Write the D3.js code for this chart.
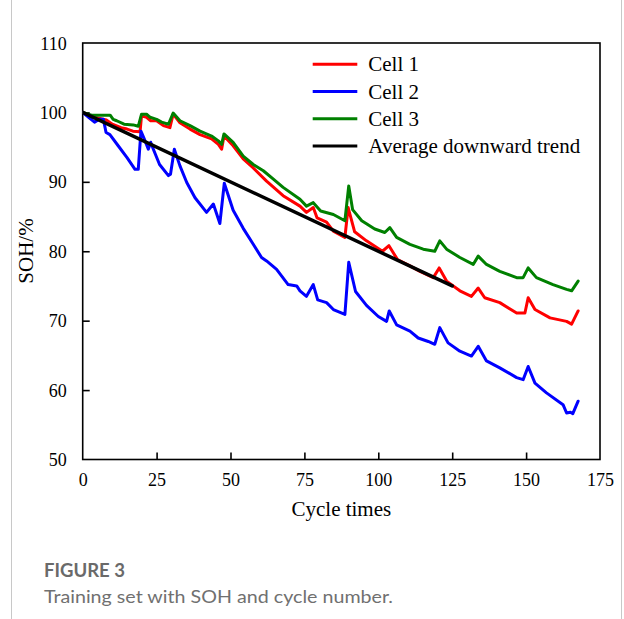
<!DOCTYPE html>
<html>
<head>
<meta charset="utf-8">
<script src="https://cdn.jsdelivr.net/npm/d3@7"></script>
<style>
html,body{margin:0;padding:0;background:#fff;}
svg{display:block;}
</style>
</head>
<body>
<svg id="chart" width="624" height="619"></svg>
<script>
// ---- data ----
const cell1X = [0,4,8,10,13,15,17,19.4,19.9,21.6,23,25,27.3,29.5,30.6,32.9,36.3,39.7,43.6,45.9,47,47.8,50.9,54.3,57.7,62.2,67.8,73.5,75.7,78,79.3,82.5,84.8,88.7,89.8,92,96,101.4,103.6,106.5,110.7,114.1,118.6,120.6,123.1,127.6,131.5,133.8,136,141.1,146.8,149.6,150.7,153,158.1,163.7,165.4,167.6];
const cell1Y = [100,99.3,98.9,98.3,97.8,97.6,97.3,97.2,99.5,99.3,98.8,98.8,98.1,97.8,99.75,98.5,97.6,96.8,96.2,95.4,94.7,96.6,95.2,93.3,92.0,90.1,88.0,86.5,85.6,86.3,84.8,84.2,82.9,82.0,86.3,82.8,81.5,80.0,80.8,78.8,77.9,77.1,76.2,77.6,75.7,74.3,73.5,74.7,73.3,72.6,71.1,71.1,73.3,71.6,70.4,69.9,69.5,71.4];

const cell2X = [0,2,4,5.5,7,7.9,9.2,12,15,17.7,18.8,19.7,21,22.2,23,23.9,26,29,29.7,31,32.9,35.2,38,41.9,44.2,46.4,47.9,50.9,54.3,57.7,60.5,62.2,65.6,69.5,72.4,73.5,75.7,78,79.5,82.5,84.8,88.7,90,92.3,96,100,102.8,103.7,106.2,110.7,113.5,116.9,119.1,120.8,123.6,127.6,131.5,133.8,136.6,141.1,146.8,149,150.7,153,156.9,162.5,163.7,165,165.8,167.6];
const cell2Y = [100,99.3,98.6,99.0,99.0,97.1,96.8,95.2,93.5,91.8,91.8,97.3,96.0,94.7,95.7,94.7,92.5,90.9,91.1,94.7,92.3,89.9,87.7,85.6,86.8,84.0,89.8,85.9,83.3,81.0,79.1,78.6,77.4,75.2,75.0,74.3,73.5,75.2,73.0,72.6,71.6,70.9,78.4,74.2,72.2,70.6,69.9,71.4,69.4,68.5,67.5,67.0,66.6,69.0,66.8,65.6,64.9,66.3,64.2,63.2,61.8,61.5,63.4,61.0,59.6,57.9,56.7,56.8,56.6,58.4];

const cell3X = [0,3,9.3,10.3,11.5,14,17.1,18.8,19.9,21.6,22.8,25,26.7,29,30.6,32.9,36.3,39.7,43.6,45.9,47,47.8,50.9,54.3,57.7,61.1,64.5,67.8,73.5,75.7,78,80.5,84.8,88.7,90,91.3,94.4,98.8,102.2,103.9,106.2,110.7,115.2,119.1,120.8,123.1,127.6,132.1,133.8,136.6,141.1,146.8,149,150.7,153.5,159.1,163.7,165.4,167.6];
const cell3Y = [100,99.6,99.6,99.0,98.8,98.3,98.2,98.0,99.75,99.75,99.3,99.0,98.6,98.3,99.9,98.8,98.1,97.3,96.6,95.9,95.4,96.9,95.7,93.7,92.5,91.6,90.4,89.2,87.5,86.5,87.0,85.8,85.3,84.4,89.4,86.0,84.4,83.2,82.7,83.4,82.0,81.0,80.3,80.0,81.5,80.3,79.1,78.1,79.3,78.1,77.1,76.2,76.2,77.6,76.2,75.2,74.5,74.3,75.7];

const trendX = [0,125];
const trendY = [100,75];

const seriesNames = ["Cell 1","Cell 2","Cell 3","Average downward trend"];
const seriesColors = ["#ff0000","#0000ff","#008000","#000000"];
const xTicks = [0,25,50,75,100,125,150,175];
const yTicks = [50,60,70,80,90,100,110];

// ---- drawing ----
const svg = d3.select("#chart");
const pL = 82.7, pR = 600, pT = 43, pB = 459.5;

svg.append("rect").attr("width",624).attr("height",619).attr("fill","#fff");
// outer page frame lines
svg.append("line").attr("x1",11.5).attr("x2",11.5).attr("y1",0).attr("y2",619).attr("stroke","#c8c8c8").attr("stroke-width",1);
svg.append("line").attr("x1",621.5).attr("x2",621.5).attr("y1",0).attr("y2",619).attr("stroke","#c8c8c8").attr("stroke-width",1);

const x = d3.scaleLinear().domain([0,175]).range([pL,pR]);
const y = d3.scaleLinear().domain([50,110]).range([pB,pT]);

const serif = "'Liberation Serif','Times New Roman',serif";

// axes (ticks inward)
const xAxis = d3.axisBottom(x).tickValues(xTicks).tickSize(-7).tickPadding(14).tickFormat(d3.format("d"));
const yAxis = d3.axisLeft(y).tickValues(yTicks).tickSize(-7).tickPadding(16).tickFormat(d3.format("d"));

const gx = svg.append("g").attr("transform",`translate(0,${pB})`).call(xAxis);
const gy = svg.append("g").attr("transform",`translate(${pL},0)`).call(yAxis);
[gx,gy].forEach(g=>{
  g.select(".domain").remove();
  g.selectAll(".tick line").attr("stroke","#000").attr("stroke-width",1.6);
  g.selectAll(".tick text").attr("font-family",serif).attr("font-size",18).attr("fill","#000");
});
gy.selectAll(".tick").filter(d=>d===110||d===50).select("line").remove();
gx.selectAll(".tick").filter(d=>d===0||d===175).select("line").remove();
gy.selectAll(".tick text").attr("dy","0.34em");

// frame
svg.append("rect").attr("x",pL).attr("y",pT).attr("width",pR-pL).attr("height",pB-pT)
  .attr("fill","none").attr("stroke","#000").attr("stroke-width",1.6);

const line = d3.line().x(d=>x(d[0])).y(d=>y(d[1]));
const zip = (a,b)=>a.map((v,i)=>[v,b[i]]);
const data = [zip(cell1X,cell1Y),zip(cell2X,cell2Y),zip(cell3X,cell3Y),zip(trendX,trendY)];
const widths = [3,3,3,3.5];

svg.append("clipPath").attr("id","clip").append("rect")
  .attr("x",pL).attr("y",pT).attr("width",pR-pL).attr("height",pB-pT);

data.forEach((d,i)=>{
  svg.append("path").attr("d",line(d)).attr("fill","none")
    .attr("stroke",seriesColors[i]).attr("stroke-width",widths[i])
    .attr("stroke-linejoin","round").attr("stroke-linecap","round")
    .attr("clip-path","url(#clip)");
});

// legend
const legY = d3.scaleLinear().domain([0,3]).range([64.3,146]);
seriesNames.forEach((n,i)=>{
  const yy = legY(i);
  svg.append("line").attr("x1",312.7).attr("x2",357.3).attr("y1",yy).attr("y2",yy)
    .attr("stroke",seriesColors[i]).attr("stroke-width",3);
  svg.append("text").attr("x",368.3).attr("y",yy+7).attr("font-family",serif)
    .attr("font-size",21).attr("fill","#000").text(n);
});

// axis titles
svg.append("text").attr("x",(pL+pR)/2).attr("y",516).attr("text-anchor","middle")
  .attr("font-family",serif).attr("font-size",21).attr("fill","#000").text("Cycle times");
svg.append("text").attr("transform","translate(33,251) rotate(-90)").attr("text-anchor","middle")
  .attr("font-family",serif).attr("font-size",21).attr("fill","#000").text("SOH/%");

// caption
svg.append("text").attr("x",44).attr("y",577).attr("font-family","Lato,'Open Sans',sans-serif")
  .attr("font-weight",700).attr("font-size",18).attr("fill","#6a6a6a").attr("textLength",81).attr("lengthAdjust","spacingAndGlyphs").text("FIGURE 3");
svg.append("text").attr("x",44).attr("y",603).attr("font-family","Lato,'Open Sans',sans-serif")
  .attr("font-size",18).attr("fill","#707070").attr("textLength",349).attr("lengthAdjust","spacingAndGlyphs").text("Training set with SOH and cycle number.");
</script>
</body>
</html>
